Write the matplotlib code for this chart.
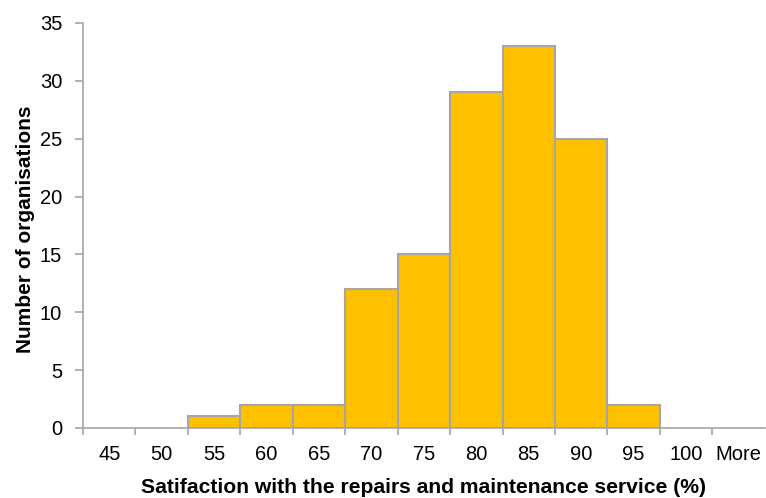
import matplotlib.pyplot as plt
import numpy as np

plt.rcParams['font.family'] = ['Liberation Sans', 'DejaVu Sans']

# histogram bins and counts
bins = ['45', '50', '55', '60', '65', '70', '75', '80', '85', '90', '95', '100', 'More']
counts = [0, 0, 1, 2, 2, 12, 15, 29, 33, 25, 2, 0, 0]

grey = '#a6a6a6'

fig = plt.figure(figsize=(7.66, 4.98), dpi=100)
ax = fig.add_axes([0.1084, 0.1406, 0.890, 0.8133])

pos = np.arange(len(bins))
heights = np.array(counts)
show = heights > 0
ax.bar(pos[show], heights[show], width=1.0, align='edge', color='#ffc000',
       edgecolor=grey, linewidth=1.5, zorder=2)

ax.set_xlim(0, len(bins))
ax.set_ylim(0, 35)
ax.set_yticks(range(0, 36, 5))

# ticks sit on bin edges, labels in the middle of each bin
ax.set_xticks(np.arange(len(bins)))
ax.set_xticklabels([])
ax.set_xticks(pos + 0.5, minor=True)
ax.set_xticklabels(bins, minor=True)
ax.tick_params(axis='x', which='minor', length=0, pad=12, labelsize=14.5)
ax.tick_params(axis='x', which='major', length=5, width=1.2, color=grey)
ax.tick_params(axis='y', length=6, width=1.2, color=grey, labelsize=14.5, pad=9)

for side in ['top', 'right']:
    ax.spines[side].set_visible(False)
for side in ['left', 'bottom']:
    ax.spines[side].set_color(grey)
    ax.spines[side].set_linewidth(1.2)

ax.set_xlabel('Satifaction with the repairs and maintenance service (%)',
              fontsize=15.2, fontweight='bold', labelpad=10)
ax.set_ylabel('Number of organisations', fontsize=15, fontweight='bold')
ax.yaxis.set_label_coords(-0.071, 0.49)

fig.savefig('out.png', dpi=100)
